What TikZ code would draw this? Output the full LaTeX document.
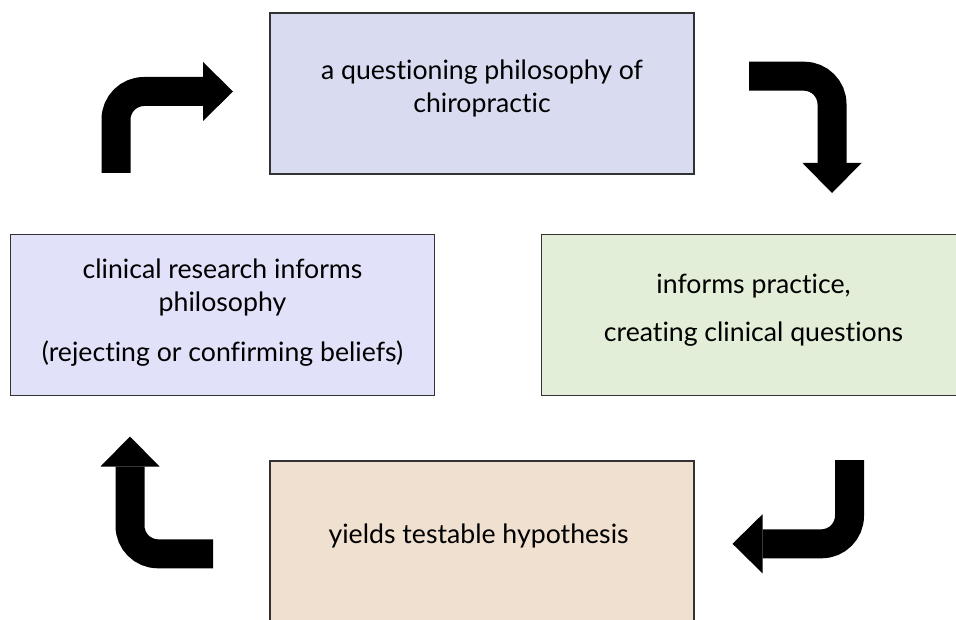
\documentclass[tikz,border=0pt]{standalone}
\usepackage{fontspec}
\setmainfont{Lato}[Ligatures=NoCommon]
\usepackage{tikz}
\usetikzlibrary{arrows.meta,positioning}

\definecolor{philblue}{RGB}{217,220,240}
\definecolor{researchlilac}{RGB}{225,225,250}
\definecolor{practicegreen}{RGB}{226,238,215}
\definecolor{hypobeige}{RGB}{240,224,208}
\definecolor{boxline}{RGB}{50,50,50}

\begin{document}
\begin{tikzpicture}[x=0.75pt,y=-0.75pt,
		stagebox/.style={shape=rectangle,draw=boxline,line width=1.1pt,minimum width=318pt,minimum height=120.5pt},
		stagetext/.style={align=center,inner sep=0pt,font=\fontsize{20}{24.75}\selectfont},
		bentarrow/.style={line width=21.75pt,rounded corners=21pt,-{Triangle[length=22.5pt,width=44.25pt,line width=0pt]}}]
					\useasboundingbox[fill=white] (0,0) rectangle (956,620);
					\clip (0,0) rectangle (956,620);
					\node (philosophy) [stagebox,fill=philblue] at (482,93.5) {};
					\node (philosophy text) [stagetext] at ([yshift=4pt]philosophy.center) {
						a questioning philosophy of\\
						chiropractic
					};
					\node (practice) [stagebox,fill=practicegreen] at (753.5,315) {};
					\node (practice text) [stagetext] at ([yshift=3.5pt]practice.center) {
						informs practice,\\[11.25pt]
						creating clinical questions
					};
					\node (hypothesis) [stagebox,fill=hypobeige] at (482,541.5) {};
					\node (hypothesis text) [stagetext] at ([yshift=4pt]hypothesis.center) {
						yields testable hypothesis
					};
					\node (research) [stagebox,fill=researchlilac] at (222.5,315) {};
					\node (research text) [stagetext] at ([yshift=1.5pt]research.center) {
						clinical research informs\\
						philosophy\\[12.75pt]
						(rejecting or confirming beliefs)
					};

					% block arrows round the cycle
					\coordinate (rp start) at (116,173);
					\coordinate (rp end) at (233,91.5);
					\coordinate (pp start) at (749,76.2);
					\coordinate (pp end) at (832,193);
					\coordinate (ph start) at (849.5,460);
					\coordinate (ph end) at (732.5,543.8);
					\coordinate (hr start) at (213,553.8);
					\coordinate (hr end) at (130,436.5);

					\draw[bentarrow] (rp start) |- (rp end);
					\draw[bentarrow] (pp start) -| (pp end);
					\draw[bentarrow] (ph start) |- (ph end);
					\draw[bentarrow] (hr start) -| (hr end);
				\end{tikzpicture}
\end{document}
